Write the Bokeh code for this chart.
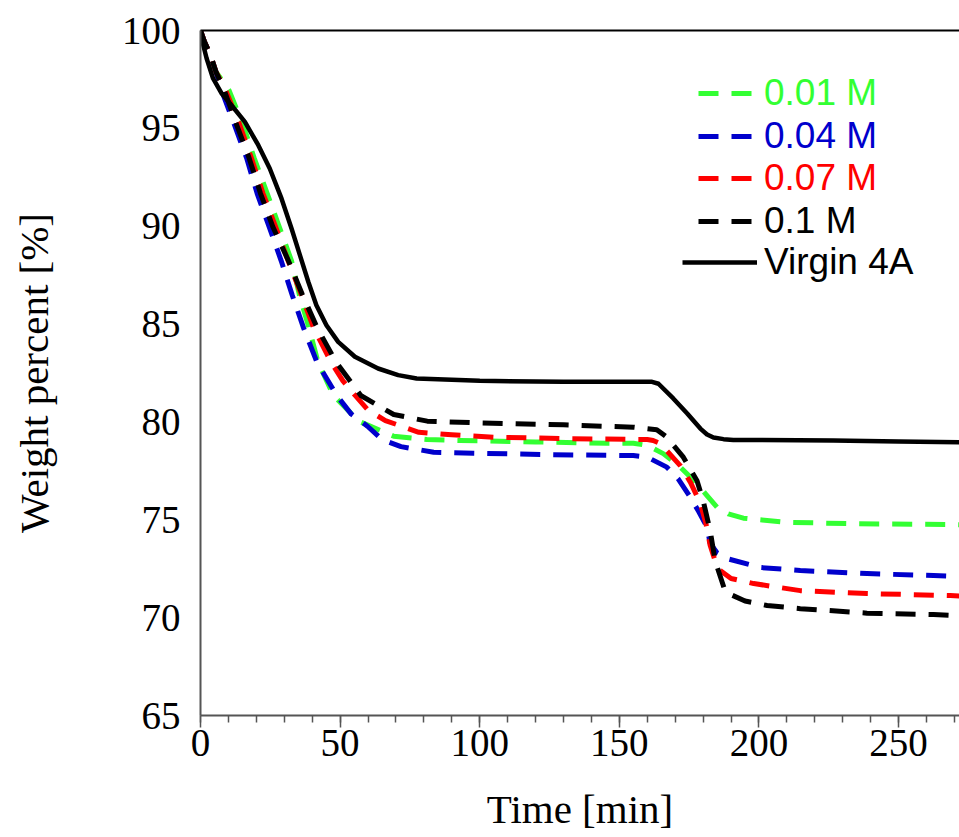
from bokeh.plotting import figure
from bokeh.models import (Range1d, LinearAxis, SingleIntervalTicker, FixedTicker,
                          Legend, LegendItem)
from bokeh.embed import file_html
from bokeh.resources import INLINE

# ---- data ----
virgin_t = [0, 1.0, 2.2, 4.5, 7.6, 11.1, 15.9, 20.7, 24.8, 29.0, 32.6, 35.6, 38.6, 41.5, 45.1,
            49.3, 55.3, 63.6, 70.8, 77.4, 100, 130, 161.7, 164.0, 169.3, 174.3, 179, 181.4,
            183.7, 187.3, 190.8, 226.6, 250, 272]
virgin_w = [100, 99.25, 98.57, 97.55, 96.78, 96.18, 95.33, 94.14, 92.95, 91.42, 89.88, 88.52,
            87.16, 85.96, 84.94, 84.09, 83.33, 82.73, 82.39, 82.22, 82.1, 82.05, 82.05, 81.95,
            81.2, 80.43, 79.66, 79.36, 79.2, 79.12, 79.08, 79.05, 79.0, 78.96]

m001_t = [0, 1.5, 3.7, 5.5, 10.2, 15.3, 19.2, 23.9, 28.2, 32.6, 35.4, 38.9, 42.1, 47.6, 56.6,
          69.2, 81.1, 93, 120, 145.6, 155, 160, 165.7, 171, 177.8, 181, 185, 189, 194.4, 210,
          233.8, 268.5, 272]
m001_w = [100, 99.4, 98.69, 97.9, 96.95, 95.16, 93.49, 91.67, 89.97, 88.23, 86.5, 84.77, 83.05,
          81.35, 80.04, 79.27, 79.1, 79.05, 78.98, 78.91, 78.91, 78.8, 78.38, 77.8, 76.85, 76.3,
          75.64, 75.3, 75.08, 74.87, 74.8, 74.76, 74.75]

m004_t = [0, 1.5, 3.7, 5.5, 7.5, 12.2, 16.5, 20.3, 24.6, 28.9, 32.8, 37.0, 41.7, 48.8, 54,
          59.8, 65, 71.8, 83.5, 97.7, 125, 155, 160, 167, 171, 175.4, 178.5, 181.4, 182.5,
          185, 188.5, 200.5, 214.8, 238.7, 262.5, 272]
m004_w = [100, 99.4, 98.69, 97.9, 96.95, 95.16, 93.49, 91.67, 89.97, 88.23, 86.5, 84.77, 83.05,
          81.35, 80.4, 79.78, 79.1, 78.74, 78.45, 78.4, 78.33, 78.28, 78.2, 77.69, 77.1, 76.15,
          75.4, 74.62, 73.8, 73.3, 73.02, 72.56, 72.41, 72.25, 72.15, 72.1]

m007_t = [0, 1.5, 3.7, 5.5, 9.0, 14.1, 18.2, 22.4, 26.9, 31.4, 36.1, 40.6, 46.8, 51, 55.4,
          60, 66.2, 78.2, 90, 105, 130, 160, 162.1, 164.6, 171.8, 175.5, 179, 181, 182.5,
          184.5, 186.1, 190, 198.1, 214.8, 238.7, 268.5, 272]
m007_w = [100, 99.4, 98.69, 97.9, 96.95, 95.16, 93.49, 91.67, 89.97, 88.23, 86.5, 84.77, 83.05,
          82.1, 81.35, 80.6, 80.07, 79.47, 79.34, 79.22, 79.15, 79.1, 79.05, 78.9, 77.77, 76.9,
          75.83, 74.8, 73.7, 72.8, 72.41, 72.0, 71.74, 71.38, 71.23, 71.13, 71.1]

m01_t = [0, 1.5, 3.7, 5.5, 8.5, 13.0, 17.4, 21.5, 25.9, 31.5, 36.5, 41.9, 48.6, 57.4, 69.2,
         81.2, 100, 130, 155, 163.4, 167, 172.9, 177.8, 180, 182.5, 184.3, 188, 195, 202.9,
         214.8, 238.7, 262.5, 272]
m01_w = [100, 99.4, 98.69, 97.9, 96.95, 95.16, 93.49, 91.67, 89.97, 88.23, 86.5, 84.77, 83.05,
         81.35, 80.38, 80.04, 79.95, 79.85, 79.73, 79.6, 79.22, 78.2, 77.0, 75.98, 74.45, 72.9,
         71.3, 70.85, 70.62, 70.46, 70.23, 70.16, 70.1]

labels = ["0.01 M", "0.04 M", "0.07 M", "0.1 M", "Virgin 4A"]
colors = ["#33ff33", "#0000cc", "#ff0000", "#000000", "#000000"]

x_title = "Time [min]"
y_title = "Weight percent [%]"
x_tick_interval = 50
x_minor_per_major = 5
y_ticks = [65, 70, 75, 80, 85, 90, 95, 100]

# ---- figure ----
p = figure(width=959, height=837, output_backend="svg", toolbar_location=None,
           x_range=Range1d(0, 271.8), y_range=Range1d(65, 100),
           x_axis_label=x_title, y_axis_label=y_title,
           min_border_left=200, min_border_right=0, min_border_top=30, min_border_bottom=122)
p.grid.visible = False
p.outline_line_color = None
p.background_fill_color = "white"
p.border_fill_color = "white"

serif = "Liberation Serif"

xa = p.xaxis[0]
xa.ticker = SingleIntervalTicker(interval=x_tick_interval, num_minor_ticks=x_minor_per_major)
xa.axis_line_color = "#555555"
xa.axis_line_width = 2
xa.major_tick_line_color = "#555555"
xa.minor_tick_line_color = "#555555"
xa.major_tick_line_width = 1.5
xa.minor_tick_line_width = 1.5
xa.major_tick_in = 0
xa.major_tick_out = 12
xa.minor_tick_in = 0
xa.minor_tick_out = 7
xa.major_label_standoff = 2
xa.major_label_text_font = serif
xa.major_label_text_font_size = "39px"
xa.major_label_text_color = "black"
xa.axis_label_text_font = serif
xa.axis_label_text_font_size = "41px"
xa.axis_label_text_font_style = "normal"
xa.axis_label_text_color = "black"
xa.axis_label_standoff = 27

ya = p.yaxis[0]
ya.ticker = FixedTicker(ticks=y_ticks)
ya.axis_line_color = "#555555"
ya.axis_line_width = 2
ya.major_tick_line_color = None
ya.minor_tick_line_color = None
ya.major_tick_in = 0
ya.major_tick_out = 0
ya.major_label_standoff = 20
ya.major_label_text_font = serif
ya.major_label_text_font_size = "39px"
ya.major_label_text_color = "black"
ya.axis_label_text_font = serif
ya.axis_label_text_font_size = "41px"
ya.axis_label_text_font_style = "normal"
ya.axis_label_text_color = "black"
ya.axis_label_standoff = 62

top = LinearAxis(ticker=FixedTicker(ticks=[]), axis_line_color="black", axis_line_width=2,
                 major_tick_line_color=None, minor_tick_line_color=None,
                 major_label_text_font_size="1px")
p.add_layout(top, "above")

series = [(m001_t, m001_w), (m004_t, m004_w), (m007_t, m007_w), (m01_t, m01_w)]
renderers = []
for (t, w), c in zip(series, colors[:4]):
    r = p.line(t, w, line_color=c, line_width=5, line_dash="20 13", line_join="round")
    renderers.append(r)
rv = p.line(virgin_t, virgin_w, line_color="black", line_width=4.5, line_join="round")
renderers.append(rv)

leg_y = [600, 557, 515, 472, 431]
for i, (lab, c, r) in enumerate(zip(labels, colors, renderers)):
    solid = (i == 4)
    leg = Legend(items=[LegendItem(label=lab, renderers=[r])],
                 location=(482 if solid else 498, leg_y[i]),
                 glyph_width=75 if solid else 54, glyph_height=44, label_height=44,
                 label_standoff=7 if solid else 12,
                 label_text_font="Liberation Sans", label_text_font_size="37px",
                 label_text_color=c, padding=0, margin=0, spacing=0,
                 border_line_color=None, background_fill_alpha=0)
    p.add_layout(leg, "center")

open("out.html", "w").write(file_html(p, INLINE))
